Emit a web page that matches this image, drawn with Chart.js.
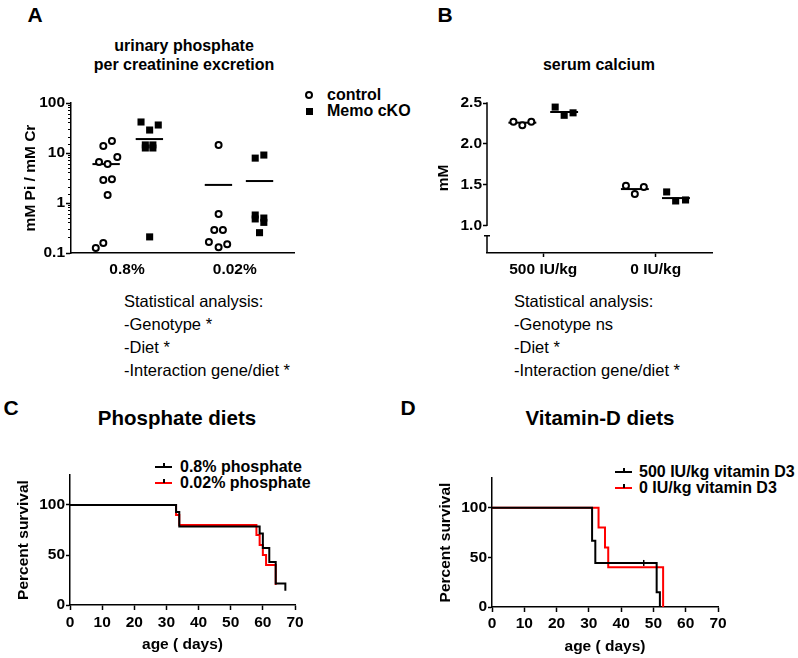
<!DOCTYPE html>
<html>
<head>
<meta charset="utf-8">
<script src="https://cdn.jsdelivr.net/npm/chart.js@4.4.1/dist/chart.umd.min.js"></script>
<style>
body{margin:0;background:#fff;}
#page{position:relative;width:798px;height:658px;overflow:hidden;font-family:"Liberation Sans",Arial,Helvetica,sans-serif;color:#000;}
canvas{position:absolute;}
.t{position:absolute;white-space:nowrap;line-height:1;}
.c{transform:translate(-50%,-50%);}
.l{transform:translateY(-50%);}
.b{font-weight:bold;}
.stat{position:absolute;font-size:16.5px;line-height:23px;white-space:nowrap;}
.mk{position:absolute;box-sizing:border-box;}
</style>
</head>
<body>
<div id="page">

<div class="t c b" style="left:35px;top:14px;font-size:21px">A</div>
<div class="t c b" style="left:445px;top:14px;font-size:21px">B</div>
<div class="t c b" style="left:11px;top:407px;font-size:21px">C</div>
<div class="t c b" style="left:408px;top:407px;font-size:21px">D</div>

<div class="t c b" style="left:184px;top:46px;font-size:16px">urinary phosphate</div>
<div class="t c b" style="left:184px;top:65px;font-size:16px">per creatinine excretion</div>
<div class="t c b" style="left:599px;top:65px;font-size:16px">serum calcium</div>
<div class="t c b" style="left:177px;top:418px;font-size:20.5px">Phosphate diets</div>
<div class="t c b" style="left:600px;top:418px;font-size:20.5px">Vitamin-D diets</div>

<!-- legend A -->
<div class="mk" style="left:305px;top:91px;width:8px;height:8px;border:2px solid #000;border-radius:50%"></div>
<div class="t l b" style="left:327px;top:95px;font-size:16px">control</div>
<div class="mk" style="left:305.5px;top:107.5px;width:7px;height:7px;background:#000"></div>
<div class="t l b" style="left:327px;top:111px;font-size:16px">Memo cKO</div>

<!-- legend C -->
<div class="mk" style="left:155px;top:466px;width:17px;height:2px;background:#000"></div>
<div class="mk" style="left:163px;top:463px;width:1.5px;height:4px;background:#000"></div>
<div class="t l b" style="left:180px;top:467px;font-size:16px">0.8% phosphate</div>
<div class="mk" style="left:155px;top:482px;width:17px;height:2px;background:#f00"></div>
<div class="mk" style="left:163px;top:479px;width:1.5px;height:4px;background:#000"></div>
<div class="t l b" style="left:180px;top:483px;font-size:16px">0.02% phosphate</div>

<!-- legend D -->
<div class="mk" style="left:615px;top:471px;width:17px;height:2px;background:#000"></div>
<div class="mk" style="left:623px;top:468px;width:1.5px;height:4px;background:#000"></div>
<div class="t l b" style="left:639px;top:472px;font-size:16px">500 IU/kg vitamin D3</div>
<div class="mk" style="left:615px;top:487px;width:17px;height:2px;background:#f00"></div>
<div class="mk" style="left:623px;top:484px;width:1.5px;height:4px;background:#000"></div>
<div class="t l b" style="left:639px;top:488px;font-size:16px">0 IU/kg vitamin D3</div>

<div class="stat" style="left:124px;top:290px">Statistical analysis:<br>-Genotype *<br>-Diet *<br>-Interaction gene/diet *</div>
<div class="stat" style="left:514px;top:290px">Statistical analysis:<br>-Genotype ns<br>-Diet *<br>-Interaction gene/diet *</div>

<canvas id="cA" width="300" height="200" style="left:0px;top:90px"></canvas>
<canvas id="cB" width="320" height="200" style="left:400px;top:90px"></canvas>
<canvas id="cC" width="320" height="203" style="left:0px;top:455px"></canvas>
<canvas id="cD" width="333" height="203" style="left:400px;top:455px"></canvas>
</div>

<script>
// A: urinary Pi / creatinine (log)
const groupsA=['0.8%','0.02%'];
const ctrlA1=[6.6,6.0,8.3,13.8,17.4,2.9,3.0,1.45,0.126,0.158];
const ctrlA1x=[0.74,0.82,0.91,0.78,0.86,0.78,0.86,0.82,0.71,0.78];
const koA1=[41.7,28.8,36.3,14.5,12.6,14.5,12.6,0.21];
const koA1x=[1.13,1.21,1.29,1.17,1.17,1.24,1.24,1.21];
const ctrlA2=[14.5,0.6,0.29,0.29,0.166,0.13,0.15];
const ctrlA2x=[1.85,1.85,1.81,1.89,1.76,1.85,1.93];
const koA2=[7.9,9.1,0.575,0.48,0.5,0.41,0.255];
const koA2x=[2.19,2.27,2.19,2.19,2.27,2.27,2.23];
const meanCtrlA=[6.0,2.3];
const meanKoA=[19,2.75];

// B: serum calcium
const groupsB=['500 IU/kg','0 IU/kg'];
const ctrlB1=[2.27,2.23,2.27];
const ctrlB1x=[0.735,0.814,0.894];
const koB1=[2.45,2.35,2.38];
const koB1x=[1.106,1.186,1.265];
const ctrlB2=[1.49,1.39,1.475];
const ctrlB2x=[1.735,1.814,1.894];
const koB2=[1.415,1.305,1.317];
const koB2x=[2.097,2.177,2.265];
const meanCtrlB=[2.26,1.45];
const meanKoB=[2.39,1.34];
const ticksB=[1.0,1.5,2.0,2.5];

// C, D: survival
const daysC08=[0,33,34,59,60,62,64,67];
const survC08=[100,92.9,78.6,71.4,57.1,42.9,21.4,14.3];
const daysC002=[0,33,34,58,59,60,61,64];
const survC002=[100,90,80,70,60,50,40,20];
const daysD500=[0,31,32,51,52];
const survD500=[100,66.7,44.4,14.8,0];
const censD500=[47];
const daysD0=[0,33,35,36,53];
const survD0=[100,80,60,40,0];
const ticksSurv=[0,50,100];

Chart.defaults.font.family="'Liberation Sans', Arial, Helvetica, sans-serif";
Chart.defaults.font.size=15.5;
Chart.defaults.font.weight='bold';
Chart.defaults.color='#000';
Chart.defaults.animation=false;
Chart.defaults.events=[];
Chart.defaults.plugins.legend.display=false;
Chart.defaults.plugins.tooltip.enabled=false;

function pts(xs,ys){
return ys.map((y,i)=>({x:xs[i],y:y}));
}

function avg(a){
return a.reduce((s,v)=>s+v,0)/a.length;
}

function dots(xs,ys,square){
return {
data:pts(xs,ys),
pointStyle:square?'rect':'circle',
pointRadius:square?5:3,
pointBorderWidth:square?0:2,
pointBackgroundColor:square?'#000':'#fff',
pointBorderColor:'#000'
};
}

function meanLine(xs,m,half){
const c=avg(xs);
return {
data:[{x:c-half,y:m},{x:c+half,y:m}],
showLine:true,
borderColor:'#000',
borderWidth:2,
pointRadius:0
};
}

function stepAt(days,surv,t){
let v=surv[0];
for(let i=0;i<days.length;i++){ if(days[i]<=t) v=surv[i]; }
return v;
}

function isDecade(v){
const l=Math.log10(v);
return Math.abs(l-Math.round(l))<1e-6;
}

const axisLine={color:'#000',width:1.5};

// A
new Chart(document.getElementById('cA'),{
type:'scatter',
data:{datasets:[
dots(ctrlA1x,ctrlA1,false),
dots(ctrlA2x,ctrlA2,false),
dots(koA1x,koA1,true),
dots(koA2x,koA2,true),
meanLine(ctrlA1x,meanCtrlA[0],0.127),
meanLine(ctrlA2x,meanCtrlA[1],0.127),
meanLine(koA1x,meanKoA[0],0.127),
meanLine(koA2x,meanKoA[1],0.127)
]},
options:{
responsive:false,
devicePixelRatio:1,
layout:{padding:{left:0,top:13,right:2,bottom:0}},
scales:{
x:{
type:'linear',min:0.48,max:2.55,
afterBuildTicks:s=>{s.ticks=[{value:1},{value:2}];},
afterFit:s=>{s.height=37;},
ticks:{padding:7,callback:v=>groupsA[Math.round(v)-1]},
grid:{drawOnChartArea:false,drawTicks:false},
border:axisLine
},
y:{
type:'logarithmic',min:0.1,max:100,
afterFit:s=>{s.width=71;},
ticks:{autoSkip:false,padding:1,callback:v=>isDecade(v)?(v<1?v.toFixed(1):String(Math.round(v))):''},
grid:{
drawOnChartArea:false,color:'#000',tickLength:5,
tickWidth:ctx=>(ctx.tick&&isDecade(ctx.tick.value))?1.5:1,
tickBorderDash:ctx=>(ctx.tick&&!isDecade(ctx.tick.value))?[3,2]:[],
tickBorderDashOffset:ctx=>(ctx.tick&&!isDecade(ctx.tick.value))?3:0
},
border:axisLine,
title:{display:true,text:'mM Pi / mM Cr',font:{size:15.5},padding:{top:21,bottom:0}}
}
}
}
});

// B, with a broken y axis
const brokenAxis={
id:'brokenAxis',
afterDraw(chart,args,opts){
const y=chart.scales.y;
const ctx=chart.ctx;
const x=chart.chartArea.left;
ctx.save();
ctx.strokeStyle='#000';
ctx.lineWidth=1.5;
ctx.beginPath();
ctx.moveTo(x,y.getPixelForValue(y.max)-0.75);
ctx.lineTo(x,y.getPixelForValue(opts.from));
ctx.moveTo(x,y.getPixelForValue(opts.to));
ctx.lineTo(x,chart.chartArea.bottom);
ctx.moveTo(x-3,y.getPixelForValue(opts.to));
ctx.lineTo(x+3,y.getPixelForValue(opts.to));
ctx.stroke();
ctx.restore();
}
};

new Chart(document.getElementById('cB'),{
type:'scatter',
data:{datasets:[
dots(ctrlB1x,ctrlB1,false),
dots(ctrlB2x,ctrlB2,false),
dots(koB1x,koB1,true),
dots(koB2x,koB2,true),
meanLine(ctrlB1x,meanCtrlB[0],0.124),
meanLine(ctrlB2x,meanCtrlB[1],0.124),
meanLine(koB1x,meanKoB[0],0.124),
meanLine(koB2x,meanKoB[1],0.124)
]},
plugins:[brokenAxis],
options:{
responsive:false,
devicePixelRatio:1,
layout:{padding:{left:0,top:13,right:8,bottom:0}},
plugins:{brokenAxis:{from:1.0,to:0.88}},
scales:{
x:{
type:'linear',min:0.5,max:2.5,
afterBuildTicks:s=>{s.ticks=[{value:1},{value:2}];},
afterFit:s=>{s.height=37;},
ticks:{padding:3,callback:v=>groupsB[Math.round(v)-1]},
grid:{drawOnChartArea:false,color:'#000',tickLength:4,tickWidth:1.5},
border:axisLine
},
y:{
type:'linear',min:0.67,max:2.5,
afterBuildTicks:s=>{s.ticks=ticksB.map(v=>({value:v}));},
afterFit:s=>{s.width=87;},
ticks:{padding:1,callback:v=>v.toFixed(1)},
grid:{drawOnChartArea:false,color:'#000',tickLength:4,tickWidth:1.5},
border:{display:false},
title:{display:true,text:'mM',font:{size:15.5},padding:{top:34,bottom:0}}
}
}
}
});

// survival charts
function survLine(days,surv,color){
return {
type:'line',
data:pts(days,surv),
stepped:true,
borderColor:color,
borderWidth:2,
pointRadius:0,
fill:false
};
}

function censor(days,surv,cens,color){
return {
type:'scatter',
data:cens.map(t=>({x:t,y:stepAt(days,surv,t)})),
pointStyle:'line',
rotation:90,
pointRadius:3,
pointBorderWidth:1.5,
pointBorderColor:color
};
}

function survOptions(padTop,padRight,yWidth,yTitlePad,xHeight,xTickPad,xTitlePad){
return {
responsive:false,
devicePixelRatio:1,
layout:{padding:{left:0,top:padTop,right:padRight,bottom:0}},
scales:{
x:{
type:'linear',min:0,max:70,
ticks:{stepSize:10,padding:xTickPad,autoSkip:false},
afterFit:s=>{s.height=xHeight;},
grid:{drawOnChartArea:false,color:'#000',tickLength:5,tickWidth:1.5},
border:axisLine,
title:{display:true,text:'age ( days)',font:{size:15.5},padding:{top:0,bottom:xTitlePad}}
},
y:{
type:'linear',min:0,max:130,
afterBuildTicks:s=>{s.ticks=ticksSurv.map(v=>({value:v}));},
afterFit:s=>{s.width=yWidth;},
ticks:{padding:1},
grid:{drawOnChartArea:false,color:'#000',tickLength:4,tickWidth:1.5},
border:axisLine,
title:{display:true,text:'Percent survival',font:{size:15.5},padding:{top:yTitlePad,bottom:0}}
}
}
};
}

new Chart(document.getElementById('cC'),{
type:'line',
data:{datasets:[
survLine(daysC08,survC08,'#000'),
survLine(daysC002,survC002,'#f00')
]},
options:survOptions(20,25,70,14,53,3,4)
});

new Chart(document.getElementById('cD'),{
type:'line',
data:{datasets:[
survLine(daysD500,survD500,'#000'),
survLine(daysD0,survD0,'#f00'),
censor(daysD500,survD500,censD500,'#000')
]},
options:survOptions(23,15,92,36,51,2,2)
});
</script>
</body>
</html>
